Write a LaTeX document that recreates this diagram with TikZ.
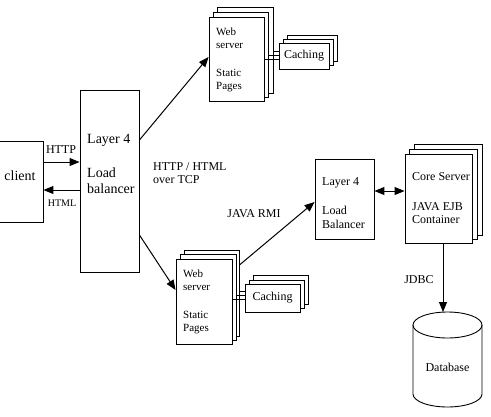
\documentclass[tikz,border=0pt]{standalone}
\usepackage{fontspec}
\setmainfont{Liberation Serif}
\newfontfamily\tnrfont{Liberation Serif}
\usetikzlibrary{arrows.meta}
\begin{document}
\begin{tikzpicture}[x=1pt,y=-1pt,
  box/.style={draw,line width=0.9pt,fill=white,inner sep=0pt},
  txt/.style={align=left,inner sep=0pt,anchor=west},
  fbig/.style={font=\tnrfont\fontsize{14}{16}\selectfont},
  fmid/.style={font=\tnrfont\fontsize{12}{14}\selectfont},
  fmidt/.style={font=\tnrfont\fontsize{12}{13}\selectfont},
  fsml/.style={font=\tnrfont\fontsize{11}{13}\selectfont},
  ftiny/.style={font=\tnrfont\fontsize{10}{12}\selectfont},
  conn/.style={line width=0.9pt},
  arr/.style={line width=1pt,-{Triangle[length=10pt,width=8pt]}},
  darr/.style={line width=1pt,{Triangle[length=10pt,width=8pt]}-{Triangle[length=10pt,width=8pt]}}]
\useasboundingbox (0,0) rectangle (491,416);

% client and first load balancer
\node[box,minimum width=58pt,minimum height=81pt] (client) at (14,181.5) {};
\node[fbig,inner sep=0pt] (clienttxt) at (20,176) {client};
\node[box,minimum width=59pt,minimum height=182pt] (lb1) at (109.5,181) {};
\node[txt,fbig] (lb1a) at (87,140) {Layer 4};
\node[txt,fbig] (lb1b) at (87,181) {Load\\balancer};

\coordinate (y162) at (0,162);
\coordinate (y190) at (0,190);
\draw[arr] (client.east |- y162) -- (lb1.west |- y162);
\draw[arr] (lb1.west |- y190) -- (client.east |- y190);
\node[fmid,inner sep=0pt] (http) at (61,150) {HTTP};
\node[ftiny,inner sep=0pt] (html) at (62,203) {HTML};

% top web server stack
\node[box,minimum width=56pt,minimum height=86pt] (wsA3) at (245,50) {};
\node[box,minimum width=55pt,minimum height=85pt] (wsA2) at (240.5,54.5) {};
\node[box,minimum width=55pt,minimum height=84pt] (wsA1) at (236.5,59) {};
\node[txt,fsml] (wsAa) at (216,38.5) {Web\\server};
\node[txt,fsml] (wsAb) at (216,80.5) {Static\\Pages};

% top caching stack
\node[box,minimum width=50pt,minimum height=26pt] (cA3) at (312,48) {};
\node[box,minimum width=50pt,minimum height=26pt] (cA2) at (308,52) {};
\node[box,minimum width=50pt,minimum height=26pt,fmid] (cA1) at (304,56) {Caching};

\coordinate (y51) at (0,51);
\coordinate (y55) at (0,55);
\coordinate (y59) at (0,59);
\draw[conn] (wsA3.east |- y51) -- (cA1.west |- y51);
\draw[conn] (wsA2.east |- y55) -- (cA1.west |- y55);
\draw[conn] (wsA1.east |- y59) -- (cA1.west |- y59);

% bottom web server stack
\node[box,minimum width=55pt,minimum height=86pt] (wsB3) at (211.5,293) {};
\node[box,minimum width=56pt,minimum height=86pt] (wsB2) at (208,297) {};
\node[box,minimum width=56pt,minimum height=85pt] (wsB1) at (204,301.5) {};
\node[txt,fsml] (wsBa) at (183,280) {Web\\server};
\node[txt,fsml] (wsBb) at (183,323) {Static\\Pages};

% bottom caching stack
\node[box,minimum width=55pt,minimum height=29pt] (cB3) at (280.5,289.5) {};
\node[box,minimum width=55pt,minimum height=28pt] (cB2) at (276.5,294) {};
\node[box,minimum width=55pt,minimum height=28pt,fmid] (cB1) at (272.5,298) {Caching};

\coordinate (y291) at (0,291);
\coordinate (y295) at (0,295);
\coordinate (y299) at (0,299);
\draw[conn] (wsB3.east |- y291) -- (cB1.west |- y291);
\draw[conn] (wsB2.east |- y295) -- (cB1.west |- y295);
\draw[conn] (wsB1.east |- y299) -- (cB1.west |- y299);

% arrows from first load balancer
\coordinate (y140) at (0,140);
\coordinate (y57) at (0,57);
\coordinate (y235) at (0,235);
\coordinate (y290) at (0,290);
\draw[arr] (lb1.east |- y140) -- (wsA1.west |- y57);
\draw[arr] (lb1.east |- y235) -- (wsB1.west |- y290);
\node[txt,fmidt] (tcp) at (153,173.5) {HTTP / HTML\\over TCP};

% second load balancer
\node[box,minimum width=59pt,minimum height=80pt] (lb2) at (344.5,199) {};
\node[txt,fmid] (lb2a) at (322,183) {Layer 4};
\node[txt,fmid] (lb2b) at (322,217) {Load\\Balancer};

\coordinate (y265) at (0,265);
\coordinate (y202) at (0,202);
\draw[arr] (wsB3.east |- y265) -- (lb2.west |- y202);
\node[fmid,inner sep=0pt] (rmi) at (254,214) {JAVA RMI};

% core server stack
\node[box,minimum width=68pt,minimum height=91pt] (core3) at (448,189.5) {};
\node[box,minimum width=68pt,minimum height=90pt] (core2) at (443,194) {};
\node[box,minimum width=67pt,minimum height=89pt] (core1) at (438.5,198.5) {};
\node[txt,fmid] (corea) at (412,177) {Core Server};
\node[txt,fmidt] (coreb) at (412,213.5) {JAVA EJB\\Container};

\coordinate (y191) at (0,191);
\draw[darr] (lb2.east |- y191) -- (core1.west |- y191);

% database
\coordinate (x443) at (443,0);
\coordinate (dbtop) at (443,312);
\draw[line width=0.9pt] (413,325) -- (413,394) arc[start angle=180,end angle=0,x radius=34.5,y radius=13] -- (482,325);
\draw[line width=0.9pt] (447.5,325) ellipse[x radius=34.5,y radius=13];
\node[fmid,inner sep=0pt] (db) at (447.5,367) {Database};
\draw[arr] (core1.south -| x443) -- (dbtop);
\node[fmid,inner sep=0pt] (jdbc) at (419,280) {JDBC};
\end{tikzpicture}
\end{document}
